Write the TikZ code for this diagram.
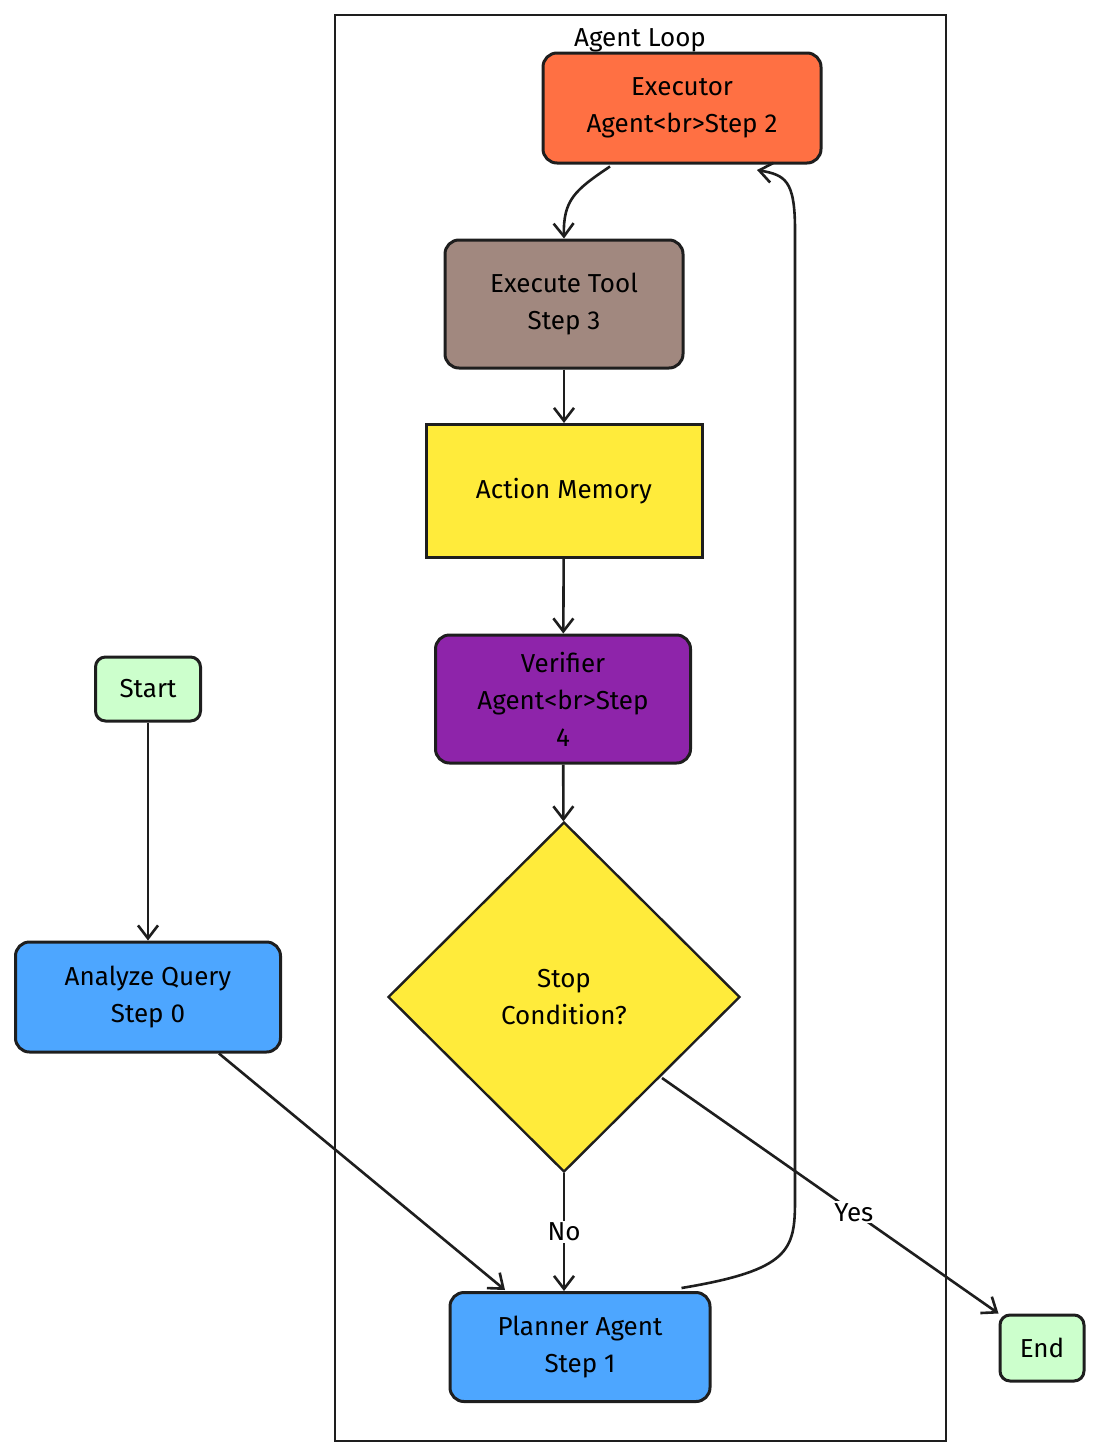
\documentclass[tikz,border=0pt]{standalone}
\usepackage{fontspec}
\setmainfont{Fira Sans}
\usetikzlibrary{shapes.geometric,arrows.meta}
\definecolor{cOr}{HTML}{FF7043}
\definecolor{cBr}{HTML}{A1887F}
\definecolor{cYe}{HTML}{FFEB3B}
\definecolor{cPu}{HTML}{8E24AA}
\definecolor{cBl}{HTML}{4DA6FF}
\definecolor{cGr}{HTML}{CCFFCC}
\definecolor{cLn}{HTML}{1E1E1E}
\begin{document}
\begin{tikzpicture}[x=1pt,y=-1pt,
  font=\fontsize{26}{37}\selectfont,
  box/.style={draw=cLn,line width=3pt,rounded corners=14pt,align=center,inner sep=0pt},
  arr/.style={draw=cLn,line width=2.6pt,-{Straight Barb[length=13pt,width=20pt]}}]
\useasboundingbox (0,0) rectangle (1100,1456);
\node[draw=cLn,line width=2pt,minimum width=611pt,minimum height=1426pt,inner sep=0pt] (loop) at (640.5,728) {};
\node (lbl) at (640,40) {Agent Loop};
\node[box,fill=cOr,minimum width=278pt,minimum height=110pt] (exe) at (682,108) {Executor\\Agent<br>Step 2};
\node[box,fill=cBr,minimum width=238pt,minimum height=128pt] (tool) at (564,304) {Execute Tool\\Step 3};
\node[box,rounded corners=0pt,fill=cYe,minimum width=276pt,minimum height=133pt] (mem) at (564,491) {Action Memory};
\node[box,fill=cPu,minimum width=255pt,minimum height=128pt] (ver) at (563,699) {Verifier\\Agent<br>Step\\4};
\node[diamond,draw=cLn,line width=2.4pt,fill=cYe,minimum width=352pt,minimum height=350pt,inner sep=0pt,align=center] (stop) at (564,997) {Stop\\Condition?};
\node[box,fill=cBl,minimum width=260pt,minimum height=109pt] (plan) at (580,1347) {Planner Agent\\Step 1};
\node[box,rounded corners=10pt,fill=cGr,minimum width=105pt,minimum height=64pt] (start) at (148,689) {Start};
\node[box,fill=cBl,minimum width=265pt,minimum height=110pt] (ana) at (148,997) {Analyze Query\\Step 0};
\node[box,rounded corners=10pt,fill=cGr,minimum width=84pt,minimum height=66pt] (end) at (1042,1348) {End};
\draw[arr] (start) -- (ana);
\draw[arr] (ana.south east) ++(-63,0) coordinate (a1) -- (505,1290) coordinate (p1);
\draw[arr] (exe.south) ++(-72,2) coordinate (e1) .. controls (575,190) and (563,200) .. (tool.north);
\draw[arr] (tool) -- (mem);
\draw[arr] (mem) -- (ver);
\draw[arr] (ver) -- (stop);
\draw[arr] (stop.south) -- node[fill=white,inner sep=2pt,pos=0.5]{No} (plan.north -| stop.south);
\draw[arr] (662,1078) coordinate (s1) -- node[fill=white,inner sep=2pt,pos=0.57]{Yes} (end.north west);
\draw[arr] (plan.north east) ++(-30,-3) coordinate (q1) .. controls (790,1270) and (795,1250) .. (795,1200) -- (795,230) .. controls (795,180) and (785,175) .. (757,170);
\end{tikzpicture}
\end{document}
